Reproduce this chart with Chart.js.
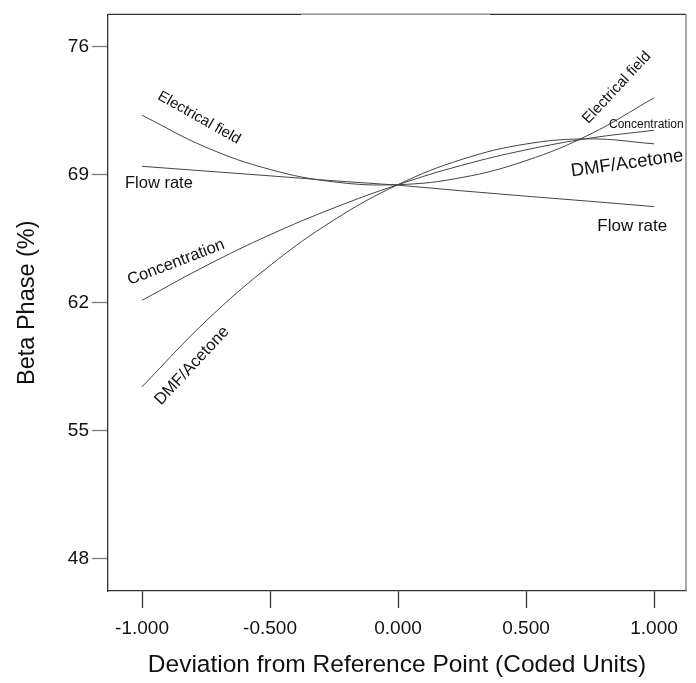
<!DOCTYPE html>
<html>
<head>
<meta charset="utf-8">
<script src="https://cdn.jsdelivr.net/npm/chart.js@4.4.1/dist/chart.umd.min.js"></script>
<style>
  html, body { margin: 0; padding: 0; background: #fff; }
  #wrap { width: 696px; height: 683px; }
</style>
</head>
<body>
<div id="wrap"><canvas id="perturbChart"></canvas></div>
<script>
// coded deviation from the reference point
const xs = [-1, -0.75, -0.5, -0.25, 0, 0.25, 0.5, 0.75, 1];

// beta phase (%)
const electricalField = [72.24, 70.49, 69.28, 68.60, 68.45, 68.84, 69.76, 71.20, 73.19];
const flowRate        = [69.45, 69.19, 68.93, 68.66, 68.42, 68.11, 67.82, 67.54, 67.25];
const concentration   = [62.13, 64.02, 65.71, 67.18, 68.45, 69.51, 70.35, 70.99, 71.42];
const dmfAcetone      = [57.41, 61.00, 64.03, 66.52, 68.45, 69.83, 70.67, 70.95, 70.68];

const yTicks = [48, 55, 62, 69, 76];
const xTicks = [-1, -0.5, 0, 0.5, 1];

// curve labels: [text, x, y, angle(deg), font size]
const curveLabels = [
  ["Electrical field", -0.777, 72.1, 29.5, 15],
  ["Flow rate", -0.934, 68.5, 0, 16.5],
  ["Concentration", -0.867, 64.2, -21, 16.5],
  ["DMF/Acetone", -0.805, 58.55, -47, 16.5],
  ["Electrical field", 0.855, 73.75, -47, 15],
  ["Concentration", 0.97, 71.7, 0, 12],
  ["DMF/Acetone", 0.895, 69.6, -8, 18.5],
  ["Flow rate", 0.915, 66.2, 0, 17]
];

const pts = arr => arr.map((v, i) => ({ x: xs[i], y: v }));
const FONT = "'Liberation Sans', Arial, sans-serif";

const frame = {
  id: "frame",
  afterDraw(chart) {
    const { ctx, chartArea: a, scales } = chart;
    ctx.save();
    ctx.lineWidth = 1.3;
    ctx.strokeStyle = "#333";
    ctx.beginPath();
    ctx.moveTo(a.left, a.top);
    ctx.lineTo(a.right, a.top);
    ctx.stroke();
    ctx.strokeStyle = "#999";
    ctx.beginPath();
    ctx.moveTo(301, a.top);
    ctx.lineTo(490, a.top);
    ctx.stroke();
    ctx.strokeStyle = "#777";
    ctx.beginPath();
    ctx.moveTo(a.right, a.top);
    ctx.lineTo(a.right, a.bottom);
    ctx.stroke();

    ctx.fillStyle = "#111";
    ctx.textAlign = "center";
    ctx.textBaseline = "middle";
    curveLabels.forEach(([t, x, y, ang, size]) => {
      ctx.save();
      ctx.translate(scales.x.getPixelForValue(x), scales.y.getPixelForValue(y));
      ctx.rotate(ang * Math.PI / 180);
      ctx.font = size + "px " + FONT;
      ctx.fillText(t, 0, 0);
      ctx.restore();
    });
    ctx.restore();
  }
};

const lineStyle = { borderColor: "#444", borderWidth: 1, pointRadius: 0, tension: 0.4, fill: false };

new Chart(document.getElementById("perturbChart"), {
  type: "line",
  data: {
    datasets: [
      { label: "Electrical field", data: pts(electricalField), ...lineStyle },
      { label: "Flow rate", data: pts(flowRate), ...lineStyle, tension: 0 },
      { label: "Concentration", data: pts(concentration), ...lineStyle },
      { label: "DMF/Acetone", data: pts(dmfAcetone), ...lineStyle }
    ]
  },
  options: {
    responsive: true,
    maintainAspectRatio: false,
    animation: false,
    layout: { padding: { top: 14, right: 10, left: 0, bottom: 0 } },
    plugins: { legend: { display: false }, tooltip: { enabled: false } },
    scales: {
      x: {
        type: "linear",
        min: -1.133,
        max: 1.125,
        afterFit: s => { s.height = 92; },
        afterBuildTicks: s => { s.ticks = xTicks.map(v => ({ value: v })); },
        grid: { drawOnChartArea: false, tickLength: 17, color: "#333", tickWidth: 1.3 },
        border: { color: "#333", width: 1.3 },
        ticks: {
          padding: 9,
          color: "#111",
          font: { family: FONT, size: 19 },
          callback: v => v.toFixed(3)
        },
        title: {
          display: true,
          text: "Deviation from Reference Point (Coded Units)",
          color: "#111",
          font: { family: FONT, size: 24.5 },
          padding: { bottom: 3 }
        }
      },
      y: {
        min: 46.25,
        max: 77.75,
        afterFit: s => { s.width = 108; },
        afterBuildTicks: s => { s.ticks = yTicks.map(v => ({ value: v })); },
        grid: { drawOnChartArea: false, tickLength: 16, color: "#777", tickWidth: 1.3 },
        border: { color: "#333", width: 1.3 },
        ticks: {
          padding: 3,
          color: "#111",
          font: { family: FONT, size: 19 }
        },
        title: {
          display: true,
          text: "Beta Phase (%)",
          color: "#111",
          font: { family: FONT, size: 23.5 },
          padding: { top: 13 }
        }
      }
    }
  },
  plugins: [frame]
});
</script>
</body>
</html>
